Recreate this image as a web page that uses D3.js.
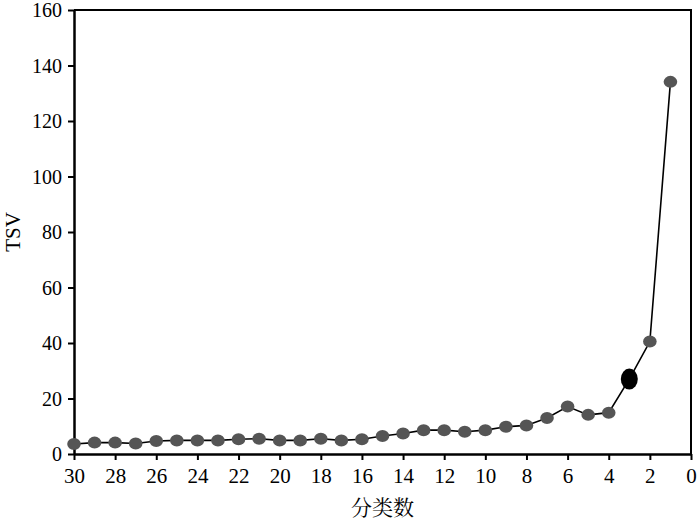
<!DOCTYPE html>
<html><head><meta charset="utf-8">
<script src="https://cdn.jsdelivr.net/npm/d3@7"></script>
<style>body{margin:0;background:#fff;} svg{display:block;}</style>
</head><body>
<svg id="c" width="700" height="522"></svg>
<script>
const categories = [30,29,28,27,26,25,24,23,22,21,20,19,18,17,16,15,14,13,12,11,10,9,8,7,6,5,4,3,2,1];
const tsvValues = [3.6,4.1,4.1,3.8,4.7,4.9,4.9,4.9,5.3,5.5,4.9,4.9,5.5,4.9,5.3,6.5,7.4,8.6,8.6,8.0,8.6,9.8,10.3,13.0,17.1,14.1,14.9,27.0,40.5,134.1];
const highlighted = [3];
const xTicks = [30,28,26,24,22,20,18,16,14,12,10,8,6,4,2,0];
const yTicks = [0,20,40,60,80,100,120,140,160];

const svg = d3.select('#c');
const m = {l:74, r:9, t:10, b:68};
const W = 700, H = 522;
const x = d3.scaleLinear().domain([30,0]).range([m.l, W - m.r]);
const y = d3.scaleLinear().domain([0,160]).range([H - m.b, m.t]);
const font = '"Liberation Serif","Times New Roman",serif';

// frame (top and right)
svg.append('path')
  .attr('d', `M${x(30)},${y(160)}H${x(0)}V${y(0)}`)
  .attr('fill','none').attr('stroke','#000').attr('stroke-width',2);

const xa = svg.append('g').attr('transform',`translate(0,${y(0)})`)
  .call(d3.axisBottom(x).tickValues(xTicks).tickSize(6).tickSizeOuter(0).tickFormat(d3.format('d')));
const ya = svg.append('g').attr('transform',`translate(${x(30)},0)`)
  .call(d3.axisLeft(y).tickValues(yTicks).tickSize(6).tickSizeOuter(0));
[xa,ya].forEach(a=>{
  a.select('.domain').attr('stroke','#000').attr('stroke-width',2.5);
  a.selectAll('.tick line').attr('stroke','#000').attr('stroke-width',2);
  a.selectAll('.tick text').attr('font-family',font).attr('fill','#000');
});
xa.selectAll('.tick text').attr('font-size',21).attr('dy','20px');
ya.selectAll('.tick text').attr('font-size',20).attr('dx','-3px').attr('dy','0.34em');

const data = categories.map((c,i)=>({c, v:tsvValues[i]}));
svg.append('path').datum(data)
  .attr('d', d3.line().x(d=>x(d.c)).y(d=>y(d.v)))
  .attr('fill','none').attr('stroke','#000').attr('stroke-width',1.6);

svg.selectAll('ellipse.pt').data(data).enter().append('ellipse')
  .attr('class','pt')
  .attr('cx',d=>x(d.c)).attr('cy',d=>y(d.v))
  .attr('rx',d=>highlighted.includes(d.c)?8.5:6.8)
  .attr('ry',d=>highlighted.includes(d.c)?10.5:6)
  .attr('fill',d=>highlighted.includes(d.c)?'#000':'#555');

svg.append('text').attr('x', (x(30)+x(0))/2).attr('y', 515)
  .attr('text-anchor','middle').attr('font-family','"Noto Serif CJK SC","Noto Sans CJK SC",sans-serif')
  .attr('font-size',21).text('分类数');
svg.append('text').attr('transform',`translate(20,${(y(0)+y(160))/2}) rotate(-90)`)
  .attr('text-anchor','middle').attr('font-family',font).attr('font-size',21).text('TSV');
</script>
</body></html>
